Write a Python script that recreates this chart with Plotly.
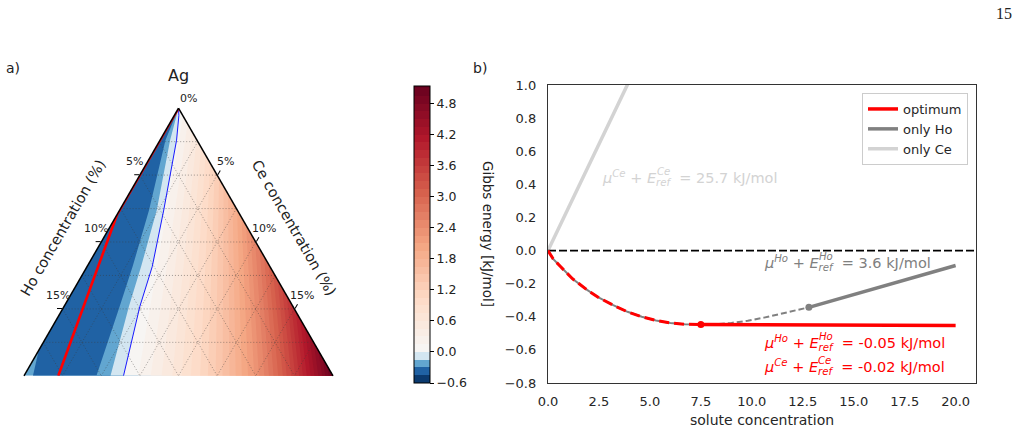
import plotly.graph_objects as go

W, H = 1020, 433

# ---------------- panel b data ----------------
ho_curve_x = [0.0, 0.25, 0.6, 1.2, 1.9, 2.5, 3.2, 3.9, 4.6, 5.3, 6.0, 6.7, 7.5,
              8.2, 9.0, 9.8, 10.6, 11.4, 12.1, 12.8]
ho_curve_y = [0.0, -0.05, -0.095, -0.17, -0.236, -0.285, -0.33, -0.37, -0.40, -0.422,
              -0.437, -0.445, -0.447, -0.445, -0.437, -0.424, -0.405, -0.384, -0.364, -0.343]
ho_line_x = [12.8, 20.0]
ho_line_y = [-0.343, -0.09]
opt_line_x = [7.5, 20.0]
opt_line_y = [-0.447, -0.453]
ce_line_x = [0.0, 20.0]
ce_line_y = [0.0, 5.14]
opt_switch_x = 7.5
ho_switch_x = 12.8
mu_ce_only = "25.7"
mu_ho_only = "3.6"
mu_ho_opt = "-0.05"
mu_ce_opt = "-0.02"

# ---------------- panel a data: contour lines in (Ho %, Ce %) ----------------
neg030_ho = [0.0, 2.04, 5.71, 8.89, 11.23, 15.31]
neg030_ce = [0.0, 0.35, 1.90, 2.95, 3.60, 4.69]
neg030_corner_ho = [18.1, 19.42]
neg030_corner_ce = [0.0, 0.58]
neg015_ho = [0.0, 1.74, 5.21, 8.34, 10.63, 14.40]
neg015_ce = [0.0, 0.65, 2.40, 3.50, 4.20, 5.60]
zero_ho = [0.0, 0.25, 1.32, 4.76, 7.62, 9.92, 13.56]
zero_ce = [0.0, 0.30, 1.07, 2.85, 4.22, 4.91, 6.44]
opt_path_ho = [0.0, 7.95, 9.50, 17.78]
opt_path_ce = [0.0, 0.0, 0.35, 2.22]
red_levels = [0.15, 0.30, 0.45, 0.60, 0.75, 0.90, 1.05, 1.20, 1.35, 1.50, 1.65, 1.80,
              1.95, 2.10, 2.25, 2.40, 2.55, 2.70, 2.85, 3.00, 3.15, 3.30, 3.45, 3.60,
              3.75, 3.90, 4.05, 4.20, 4.35, 4.50, 4.65, 4.80, 4.95, 5.10]
red_top_ce = [0.58, 1.17, 1.75, 2.33, 2.92, 3.50, 4.09, 4.67, 5.25, 5.84, 6.42, 7.00,
              7.59, 8.17, 8.75, 9.34, 9.92, 10.51, 11.09, 11.67, 12.26, 12.84, 13.42, 14.01,
              14.59, 15.18, 15.76, 16.34, 16.93, 17.51, 18.09, 18.68, 19.26, 19.84]
red_base_ce = [7.4, 8.2, 8.9, 9.6, 10.2, 10.8, 11.4, 11.9, 12.4, 12.85, 13.3, 13.7,
               14.1, 14.5, 14.9, 15.2, 15.55, 15.85, 16.15, 16.45, 16.75, 17.0, 17.3, 17.55,
               17.8, 18.05, 18.3, 18.55, 18.8, 19.05, 19.3, 19.5, 19.72, 19.93]
grid_levels = [2.5, 5.0, 7.5, 10.0, 12.5, 15.0, 17.5]
solute_max = 20.0
tick_pcts = [5, 10, 15]
cb_levels = [-0.6, -0.45, -0.3, -0.15, 0.0] + red_levels + [5.14]
cb_ticks = [-0.6, 0.0, 0.6, 1.2, 1.8, 2.4, 3.0, 3.6, 4.2, 4.8]

# ---------------- colours ----------------
RDBU_R = ["#053061", "#2166ac", "#4393c3", "#92c5de", "#d1e5f0", "#f7f7f7",
          "#fddbc7", "#f4a582", "#d6604d", "#b2182b", "#67001f"]
BLUES = ["#0b3a6f", "#2062a4", "#62a6d0", "#d3e6f1"]
VMAX = 5.14


def hex2rgb(h):
    return tuple(int(h[i:i + 2], 16) for i in (1, 3, 5))


def cmap(p):
    p = min(max(p, 0.0), 1.0)
    f = p * 10
    i = min(int(f), 9)
    t = f - i
    a, b = hex2rgb(RDBU_R[i]), hex2rgb(RDBU_R[i + 1])
    c = [round(a[k] + (b[k] - a[k]) * t) for k in range(3)]
    return "rgb(%d,%d,%d)" % tuple(c)


def band_color(idx):
    lo, hi = cb_levels[idx], cb_levels[idx + 1]
    if hi <= 0:
        return BLUES[idx]
    mid = lo + 0.075
    return cmap(0.5 + 0.5 * mid / VMAX)


def tern(ho, ce):
    return dict(a=[100 - h - c for h, c in zip(ho, ce)], b=list(ho), c=list(ce))


fig = go.Figure()


def add_poly(ho, ce, color):
    fig.add_trace(go.Scatterternary(**tern(ho, ce), mode="lines", fill="toself",
                                    fillcolor=color, line=dict(width=0, color=color),
                                    hoverinfo="skip", showlegend=False))


S = solute_max
add_poly([0, S, 0], [0, 0, S], BLUES[2])
add_poly([0] + neg030_corner_ho + [0], [0] + neg030_corner_ce + [S], BLUES[1])
add_poly(neg030_ho + [0], neg030_ce + [S], BLUES[2])
add_poly(neg015_ho + [0], neg015_ce + [S], BLUES[3])
add_poly(zero_ho + [0], zero_ce + [S], band_color(4))
for k, v in enumerate(red_levels):
    add_poly([0, S - red_base_ce[k], 0], [red_top_ce[k], red_base_ce[k], S], band_color(5 + k))

# grid lines (dotted)
gho, gce = [], []
for g in grid_levels:
    gho += [g, 0, None]; gce += [0, g, None]            # constant Ag
    gho += [g, g, None]; gce += [0, S - g, None]        # constant Ho
    gho += [0, S - g, None]; gce += [g, g, None]        # constant Ce
ga = [None if h is None else 100 - h - c for h, c in zip(gho, gce)]
fig.add_trace(go.Scatterternary(a=ga, b=gho, c=gce, mode="lines", connectgaps=False,
                                line=dict(color="rgba(60,60,60,0.6)", width=0.8, dash="1px,2px"),
                                hoverinfo="skip", showlegend=False))
fig.add_trace(go.Scatterternary(**tern(zero_ho, zero_ce), mode="lines",
                                line=dict(color="#0000ff", width=0.9),
                                hoverinfo="skip", showlegend=False))
fig.add_trace(go.Scatterternary(**tern(opt_path_ho, opt_path_ce), mode="lines",
                                line=dict(color="#ff0000", width=2.6),
                                hoverinfo="skip", showlegend=False))

FONT = "DejaVu Sans"
tri_l, tri_r, tri_top, tri_bot = 24, 333, 108, 376
tri_apex_x = (tri_l + tri_r) / 2
fig.update_layout(ternary=dict(
    domain=dict(x=[tri_l / W, tri_r / W], y=[1 - tri_bot / H, 1 - tri_top / H]),
    sum=100, bgcolor="white",
    aaxis=dict(min=100 - S, tickvals=[100 - t for t in tick_pcts], showticklabels=False,
               ticks="outside", ticklen=5, tickcolor="black", linecolor="black",
               linewidth=1.5, showgrid=False, title=dict(text="")),
    baxis=dict(min=0, showticklabels=False, ticks="", showline=False, showgrid=False,
               title=dict(text="")),
    caxis=dict(min=0, tickvals=tick_pcts, showticklabels=False,
               ticks="outside", ticklen=5, tickcolor="black", linecolor="black",
               linewidth=1.5, showgrid=False, title=dict(text="")),
))

# ---------------- panel b ----------------
n_sw = ho_curve_x.index(opt_switch_x)
fig.add_trace(go.Scatter(x=ce_line_x, y=ce_line_y, mode="lines", name="only Ce",
                         line=dict(color="#d3d3d3", width=3.5), legendrank=3))
fig.add_trace(go.Scatter(x=[0, 21], y=[0, 0], mode="lines", showlegend=False,
                         line=dict(color="black", width=1.8, dash="8px,3px")))
fig.add_trace(go.Scatter(x=ho_curve_x[:n_sw + 1], y=ho_curve_y[:n_sw + 1], mode="lines",
                         showlegend=False, line=dict(color="#808080", width=2)))
fig.add_trace(go.Scatter(x=ho_curve_x[n_sw:], y=ho_curve_y[n_sw:], mode="lines",
                         showlegend=False, line=dict(color="#808080", width=2, dash="6px,3px")))
fig.add_trace(go.Scatter(x=ho_line_x, y=ho_line_y, mode="lines", name="only Ho",
                         line=dict(color="#808080", width=3.5), legendrank=2))
fig.add_trace(go.Scatter(x=[ho_switch_x], y=[ho_line_y[0]], mode="markers", showlegend=False,
                         marker=dict(color="#808080", size=7)))
fig.add_trace(go.Scatter(x=ho_curve_x[:n_sw + 1], y=ho_curve_y[:n_sw + 1], mode="lines",
                         showlegend=False, line=dict(color="#ff0000", width=3, dash="10px,5px")))
fig.add_trace(go.Scatter(x=opt_line_x, y=opt_line_y, mode="lines", name="optimum",
                         line=dict(color="#ff0000", width=3.5), legendrank=1))
fig.add_trace(go.Scatter(x=[opt_line_x[0]], y=[opt_line_y[0]], mode="markers", showlegend=False,
                         marker=dict(color="#ff0000", size=7)))

# colorbar carrier
cs = []
for i in range(len(cb_levels) - 1):
    t0 = (cb_levels[i] - cb_levels[0]) / (cb_levels[-1] - cb_levels[0])
    t1 = (cb_levels[i + 1] - cb_levels[0]) / (cb_levels[-1] - cb_levels[0])
    col = band_color(i)
    cs += [[t0, col], [t1, col]]
cs[0][0] = 0.0
cs[-1][0] = 1.0
cb_x, cb_top, cb_bot, cb_th = 414, 86, 383, 16
fig.add_trace(go.Scatter(x=[1], y=[0], mode="markers", showlegend=False, hoverinfo="skip",
                         marker=dict(size=1, opacity=0, color=[0], colorscale=cs,
                                     cmin=cb_levels[0], cmax=cb_levels[-1], showscale=True,
                                     colorbar=dict(x=cb_x / W, xanchor="left", xpad=0,
                                                   y=1 - cb_bot / H, yanchor="bottom", ypad=0,
                                                   len=cb_bot - cb_top, lenmode="pixels",
                                                   thickness=cb_th, outlinewidth=1,
                                                   outlinecolor="black", ticks="outside",
                                                   ticklen=4, tickcolor="black",
                                                   tickvals=cb_ticks, tickformat=".1f",
                                                   tickfont=dict(size=12.5, color="#222")))))
zero_frac = (0 - cb_levels[0]) / (cb_levels[-1] - cb_levels[0])
zy = 1 - cb_bot / H + zero_frac * (cb_bot - cb_top) / H
fig.add_shape(type="line", xref="paper", yref="paper", x0=cb_x / W, x1=(cb_x + cb_th) / W,
              y0=zy, y1=zy, line=dict(color="#0000ff", width=1))

ax_l, ax_r, ax_t, ax_b = 548, 976, 85, 383
fig.update_layout(
    xaxis=dict(domain=[ax_l / W, ax_r / W], range=[0, 21],
               tickvals=[0, 2.5, 5, 7.5, 10, 12.5, 15, 17.5, 20],
               tickformat=".1f", showgrid=False, zeroline=False, showline=True, mirror=True,
               linecolor="#333", linewidth=1.3, ticks="", ticklabelstandoff=6,
               tickfont=dict(size=13, color="#262626")),
    yaxis=dict(domain=[1 - ax_b / H, 1 - ax_t / H], range=[-0.8, 1.0], dtick=0.2,
               tickformat=".1f", showgrid=False, zeroline=False, showline=True, mirror=True,
               linecolor="#333", linewidth=1.3, ticks="", ticklabelstandoff=8,
               tickfont=dict(size=13, color="#262626")),
    legend=dict(x=968 / W, xanchor="right", y=1 - 93 / H, yanchor="top",
                bordercolor="#cccccc", borderwidth=1, bgcolor="white",
                font=dict(size=13, color="#262626", family=FONT), tracegroupgap=0),
    width=W, height=H, autosize=False,
    margin=dict(l=0, r=0, t=0, b=0, pad=0, autoexpand=False),
    paper_bgcolor="white", plot_bgcolor="white", font=dict(family=FONT, color="#222"),
    showlegend=True,
)

# ---- mathtext-like labels: E with stacked superscript/subscript ----
NB = "\u00a0"
ADV = {"μ": 1300, "H": 1540, "o": 1253, "C": 1430, "e": 1260, " ": 651, "+": 1716, "E": 1294}
FS = 14.5
SUPF = 0.7


def adv(s, size):
    return sum(ADV[ch] for ch in s) / 2048.0 * size


def mu_label(x, y, el, val, color):
    main = ("<i>μ</i><sup><i>%s</i></sup> + <i>E</i><sub><i>ref</i></sub>%s%s= %s kJ/mol"
            % (el, NB, NB, val))
    fig.add_annotation(x=x, y=y, xref="x", yref="y", text=main, showarrow=False,
                       xanchor="left", yanchor="middle", font=dict(size=FS, color=color))
    w_pre = adv("μ", FS) + adv(el, FS * SUPF) + adv(" + E", FS)
    fig.add_annotation(x=x, y=y, xref="x", yref="y", text="<i>%s</i>" % el, showarrow=False,
                       xanchor="left", yanchor="middle", xshift=w_pre + 1.5, yshift=6,
                       font=dict(size=FS * SUPF, color=color))


mu_label(2.55, 0.44, "Ce", mu_ce_only, "#d3d3d3")
mu_label(10.48, -0.075, "Ho", mu_ho_only, "#808080")
mu_label(10.48, -0.558, "Ho", mu_ho_opt, "#ff0000")
mu_label(10.48, -0.703, "Ce", mu_ce_opt, "#ff0000")


def pa(x, y, text, size, angle=0, color="#222", family=FONT, xanchor="center"):
    fig.add_annotation(x=x / W, y=1 - y / H, xref="paper", yref="paper", text=text,
                       showarrow=False, textangle=angle, xanchor=xanchor, yanchor="middle",
                       font=dict(size=size, color=color, family=family))


# ternary tick labels placed just above their tick on each side edge
half_w = (tri_r - tri_l) / 2
for t in tick_pcts:
    frac = t / S
    ey = tri_top + frac * (tri_bot - tri_top)
    pa(tri_apex_x - frac * half_w - 5, ey - 14, "%d%%" % t, 11)
    pa(tri_apex_x + frac * half_w + 8, ey - 14, "%d%%" % t, 11)

pa(762, 420, "solute concentration", 14, color="#262626")
pa(488, 234, "Gibbs energy [kJ/mol]", 13.5, angle=90)
pa(63, 228, "Ho concentration (%)", 14.5, angle=-60)
pa(294, 228, "Ce concentration (%)", 14.5, angle=60)
pa(178, 75, "Ag", 16)
pa(188, 98, "0%", 11)
pa(13, 68, "a)", 14)
pa(480, 68, "b)", 14)
pa(1004, 14, "15", 16, family="Liberation Serif")

fig.write_html("out.html")
